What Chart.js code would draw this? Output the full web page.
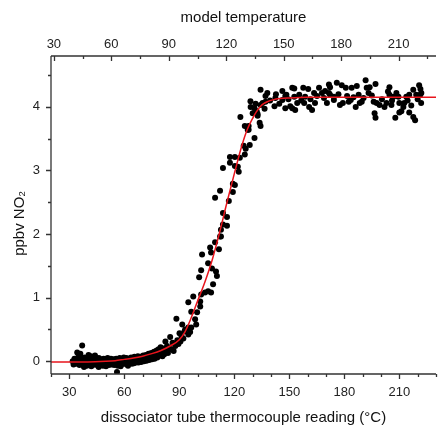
<!DOCTYPE html>
<html>
<head>
<meta charset="utf-8">
<script src="https://cdn.jsdelivr.net/npm/chart.js@4"></script>
<style>
  html, body { margin: 0; padding: 0; background: #fff; }
  canvas { display: block; }
</style>
</head>
<body>
<canvas id="chart" width="440" height="425"></canvas>
<script>
// measured points (thermocouple reading in °C, ppbv NO2)
const measured = [
  [31.8,0.00],[32.3,-0.05],[32.8,0.04],[33.2,-0.02],
  [33.8,0.02],[34.2,-0.04],[34.5,0.05],[34.9,-0.02],[35.2,0.03],[35.5,-0.06],[35.9,0.01],[36.2,0.07],[36.6,-0.03],[36.9,0.02],
  [37.3,-0.05],[37.7,0.04],[38.0,-0.01],[38.4,0.06],[38.8,-0.04],[39.1,0.01],[39.5,-0.07],[39.9,0.03],[40.2,-0.02],[40.6,0.05],
  [41.0,-0.05],[41.3,0.00],[41.7,0.08],[42.1,-0.03],[42.4,0.02],[42.8,-0.06],[43.2,0.04],[43.5,-0.01],[43.9,0.06],[44.3,-0.04],
  [44.6,0.01],[45.0,-0.06],[45.4,0.03],[45.7,-0.02],[46.1,0.05],[46.5,-0.05],[46.8,0.00],[47.2,0.03],[47.6,-0.04],[47.9,0.02],
  [48.3,-0.07],[48.7,0.04],[49.0,-0.02],[49.4,0.01],[49.8,-0.05],[50.1,0.03],[50.5,-0.03],[50.9,0.05],[51.2,-0.01],[51.6,-0.06],
  [52.0,0.02],[52.3,-0.03],[52.7,0.04],[53.1,-0.05],[53.4,0.00],[53.8,-0.03],[54.2,0.03],[54.5,-0.06],[54.9,0.01],[55.3,-0.04],
  [55.6,0.04],[56.0,-0.02],[56.4,-0.07],[56.7,0.02],[57.1,-0.04],[57.5,0.05],[57.8,-0.01],[58.2,-0.05],[58.6,0.03],[58.9,-0.03],
  [59.3,0.00],[59.7,0.06],[60.0,-0.04],[60.4,0.02],[60.8,-0.02],[61.1,0.05],[61.5,-0.05],[61.9,0.01],[62.2,0.04],[62.6,-0.03],
  [63.0,0.02],[63.3,-0.01],[63.7,0.06],[64.1,-0.04],[64.4,0.03],[64.8,0.00],[65.2,-0.03],[65.5,0.07],[65.9,0.02],[66.3,-0.02],
  [66.6,0.05],[67.0,0.00],[67.4,0.08],[67.7,-0.02],[68.1,0.04],[68.5,0.01],[68.8,0.07],[69.2,-0.01],[69.6,0.05],[69.9,0.02],
  [70.3,0.09],[70.7,0.00],[71.0,0.06],[71.4,0.03],[71.8,0.10],[72.1,0.01],[72.5,0.07],[72.9,0.04],[73.2,0.12],[73.6,0.02],
  [74.0,0.08],[74.3,0.05],[74.7,0.13],[75.1,0.03],[75.4,0.10],[75.8,0.06],[76.2,0.15],[76.5,0.04],[76.9,0.11],[77.3,0.08],
  [77.6,0.17],[78.0,0.06],[78.4,0.13],[78.7,0.19],[79.1,0.09],[79.5,0.15],[79.8,0.22],
  [37.0,0.25],[34.3,0.14],[56.0,-0.17],[36.0,0.12],[40.5,0.10],[44.0,0.09],[35.2,0.11],
  [38.0,-0.09],[42.0,-0.08],[50.0,-0.08],[58.0,-0.08],[46.0,-0.09],[62.0,-0.07],
  [80.3,0.14],[80.8,0.08],[81.3,0.20],[81.8,0.11],[82.4,0.31],[82.8,0.16],[83.3,0.24],[83.8,0.13],[84.3,0.21],[85.0,0.38],
  [85.7,0.19],[86.3,0.29],[86.9,0.16],[87.8,0.24],[88.4,0.67],[88.9,0.33],[89.5,0.27],[90.1,0.44],[90.6,0.31],[91.2,0.39],
  [91.6,0.58],[92.2,0.36],[92.8,0.47],
  [93.2,0.50],[94.9,0.42],[94.9,0.53],[95.9,0.46],[96.5,0.53],[94.9,0.93],[96.5,0.78],[97.6,1.02],[98.6,0.66],[99.2,0.58],
  [99.7,0.77],[100.8,1.32],[101.4,0.94],[101.4,0.86],[101.9,1.43],[101.9,1.05],[102.4,1.68],[104.0,1.08],[105.7,1.54],[105.7,1.10],
  [106.8,1.79],[107.3,1.08],[107.3,1.71],[107.8,1.46],[108.4,1.21],[109.5,1.87],[110.0,1.41],[110.5,1.34],[111.6,1.76],[112.2,1.96],
  [112.7,2.07],[112.7,1.96],[113.8,2.15],[116.0,2.13],[116.0,2.27],[113.8,2.33],[117.0,2.52],[109.5,2.57],[119.2,2.66],[112.2,2.68],
  [120.3,2.77],[119.2,2.79],[122.4,2.98],[113.8,3.04],[121.9,3.06],[120.3,3.07],[117.6,3.12],[123.0,3.20],[120.3,3.21],[117.6,3.21],
  [125.7,3.25],[126.2,3.34],[125.1,3.39],[128.4,3.40],[131.0,3.51],[127.8,3.64],[127.3,3.64],[125.7,3.70],[127.8,3.70],[134.3,3.70],
  [133.8,3.75],[123.3,3.84],[132.7,3.86],[132.7,3.89],[130.0,3.90],[131.6,3.93],[132.2,3.93],[131.0,3.98],[128.9,4.00],[134.3,4.03],
  [131.6,4.05],[135.4,4.06],[128.8,4.09],
  [134.3,4.27],[137.0,4.17],[138.0,4.22],[136.5,3.97],[137.0,4.08],[141.9,4.01],[142.4,4.14],[142.7,4.20],[146.2,4.25],[146.2,4.11],
  [147.8,4.17],[147.8,3.98],[148.4,4.19],[150.5,4.01],[151.6,4.30],[151.6,3.98],[152.7,4.29],[152.7,4.16],[153.2,3.95],[154.3,4.06],
  [155.4,4.19],[157.6,4.30],[158.1,4.06],[158.6,4.16],[160.3,4.28],[160.8,4.00],[162.4,3.95],[164.0,4.06],[165.1,4.17],[166.2,4.30],
  [167.8,4.22],[168.9,4.14],[170.5,4.06],[171.6,4.35],[171.6,4.22],[172.2,4.31],[172.2,4.19],[174.3,4.16],[174.3,4.11],[175.9,4.38],
  [177.6,4.03],[178.6,4.34],[179.2,4.06],[180.8,4.30],[182.4,4.08],[183.5,4.11],[184.0,4.30],[186.2,4.00],[186.8,4.33],[187.8,4.19],
  [188.4,4.06],[189.5,4.08],[191.6,4.42],[192.2,4.30],[193.2,4.22],[193.8,4.31],[196.0,4.08],[196.5,3.90],[197.0,4.36],[197.0,3.83],
  [197.6,4.06],[199.2,4.03],[201.9,4.00],[203.0,4.06],[204.6,4.31],[204.6,4.19],[205.7,4.03],[206.8,4.16],[207.8,3.83],[208.4,4.22],
  [209.5,4.16],[210.0,4.06],[210.0,3.91],[211.1,3.93],[212.2,4.00],[212.7,4.06],[213.8,4.16],[215.4,4.19],[215.4,3.91],[217.6,4.27],
  [217.6,3.84],[218.6,3.79],[219.2,4.19],[220.8,4.34],[221.4,4.19],[221.9,4.06],
  [139.5,4.10],[144.5,4.05],[149.5,4.12],[156.5,4.10],[161.5,4.12],[163.5,4.22],[169.5,4.25],[176.8,4.20],[181.5,4.17],[185.0,4.15],
  [190.5,4.14],[195.0,4.18],[200.5,4.12],[203.8,4.24],[206.0,4.10],[214.5,4.10],[216.5,4.02],[220.0,4.12],[221.5,4.28],[222.0,4.22]
];

// fitted curve
const fitX = [20, 30, 40, 50, 55, 60, 65, 70, 75, 80, 85, 90, 93, 96, 100, 104, 108, 112, 116, 120, 124, 127, 130, 132, 134, 136, 138, 141, 145, 150, 160, 180, 200, 230];
const fitY = [-0.01, -0.01, -0.01, 0.0, 0.01, 0.03, 0.05, 0.08, 0.12, 0.17, 0.24, 0.34, 0.46, 0.65, 0.95, 1.25, 1.6, 2.03, 2.5, 2.95, 3.38, 3.64, 3.82, 3.92, 4.0, 4.05, 4.08, 4.11, 4.13, 4.14, 4.15, 4.15, 4.15, 4.15];

const bottomTicks = [30, 60, 90, 120, 150, 180, 210];
const topTicks = [30, 60, 90, 120, 150, 180, 210];
const yTicks = [0, 1, 2, 3, 4];

const AXIS_COLOR = '#333';
const FONT = 'Liberation Sans, Arial, sans-serif';

const tickFont = { family: FONT, size: 13 };
const titleFont = { family: FONT, size: 15, lineHeight: 1.0 };

function fixedTicks(values) {
    return function (scale) {
        scale.ticks = values.map(v => ({ value: v }));
    };
}

// axis lines plus major / minor tick marks, Origin style
const axisMarks = {
    id: 'axisMarks',
    afterDraw(chart) {
        const { ctx, chartArea: a, scales } = chart;
        ctx.save();
        ctx.strokeStyle = AXIS_COLOR;
        ctx.lineWidth = 1.3;
        ctx.beginPath();
        ctx.moveTo(a.left, a.top); ctx.lineTo(a.right, a.top);
        ctx.moveTo(a.left, a.top); ctx.lineTo(a.left, a.bottom);
        ctx.moveTo(a.left, a.bottom); ctx.lineTo(a.right, a.bottom);

        const xb = scales.x, xt = scales.x2, y = scales.y;
        for (let v = 20; v <= 230; v += 10) {
            const px = Math.round(xb.getPixelForValue(v)) + 0.5;
            const len = v % 30 === 0 ? 5 : 3;
            ctx.moveTo(px, a.bottom); ctx.lineTo(px, a.bottom + len);
        }
        for (let v = 30; v <= 229; v += 15) {
            const px = Math.round(xt.getPixelForValue(v)) + 0.5;
            const len = v % 30 === 0 ? 5 : 3;
            ctx.moveTo(px, a.top); ctx.lineTo(px, a.top + len);
        }
        for (let v = 0; v <= 4.5; v += 0.5) {
            const py = Math.round(y.getPixelForValue(v)) + 0.5;
            const len = v % 1 === 0 ? 5 : 3;
            ctx.moveTo(a.left, py); ctx.lineTo(a.left - len, py);
        }
        ctx.stroke();
        ctx.restore();
    }
};

new Chart(document.getElementById('chart'), {
    type: 'scatter',
    data: {
        datasets: [{
            type: 'line',
            label: 'fit',
            data: fitX.map((x, i) => ({ x: x, y: fitY[i] })),
            borderColor: '#e8141c',
            borderWidth: 1.5,
            pointRadius: 0,
            cubicInterpolationMode: 'monotone',
            fill: false,
            order: 0
        }, {
            label: 'measured',
            data: measured.map(p => ({ x: p[0], y: p[1] })),
            backgroundColor: '#000',
            borderWidth: 0,
            pointRadius: 3,
            order: 1
        }]
    },
    options: {
        responsive: false,
        animation: false,
        devicePixelRatio: 1,
        layout: { padding: { left: 0, right: 1, top: 0, bottom: 0 } },
        plugins: {
            legend: { display: false },
            tooltip: { enabled: false }
        },
        scales: {
            x: {
                type: 'linear',
                position: 'bottom',
                min: 20,
                max: 230,
                afterBuildTicks: fixedTicks(bottomTicks),
                afterFit: function (scale) { scale.height = 51; },
                grid: { display: false, drawTicks: false, tickLength: 0 },
                border: { display: false },
                ticks: { font: tickFont, color: '#222', padding: 11, maxRotation: 0 },
                title: {
                    display: true,
                    text: 'dissociator tube thermocouple reading (°C)',
                    font: titleFont,
                    color: '#111',
                    padding: { top: 0, bottom: 0 }
                }
            },
            x2: {
                type: 'linear',
                position: 'top',
                min: 28.5,
                max: 229.5,
                afterBuildTicks: fixedTicks(topTicks),
                afterFit: function (scale) { scale.height = 56; },
                grid: { display: false, drawTicks: false, tickLength: 0 },
                border: { display: false },
                ticks: { font: tickFont, color: '#222', padding: 4, maxRotation: 0 },
                title: {
                    display: true,
                    text: 'model temperature',
                    font: titleFont,
                    color: '#111',
                    padding: { top: 10, bottom: 0 }
                }
            },
            y: {
                type: 'linear',
                position: 'left',
                min: -0.2,
                max: 4.8,
                afterBuildTicks: fixedTicks(yTicks),
                afterFit: function (scale) { scale.width = 51; },
                grid: { display: false, drawTicks: false, tickLength: 0 },
                border: { display: false },
                ticks: { font: tickFont, color: '#222', padding: 11 },
                title: {
                    display: true,
                    text: 'ppbv NO\u2082    ',
                    font: titleFont,
                    color: '#111',
                    padding: { top: 12, bottom: 0 }
                }
            }
        }
    },
    plugins: [axisMarks]
});
</script>
</body>
</html>
